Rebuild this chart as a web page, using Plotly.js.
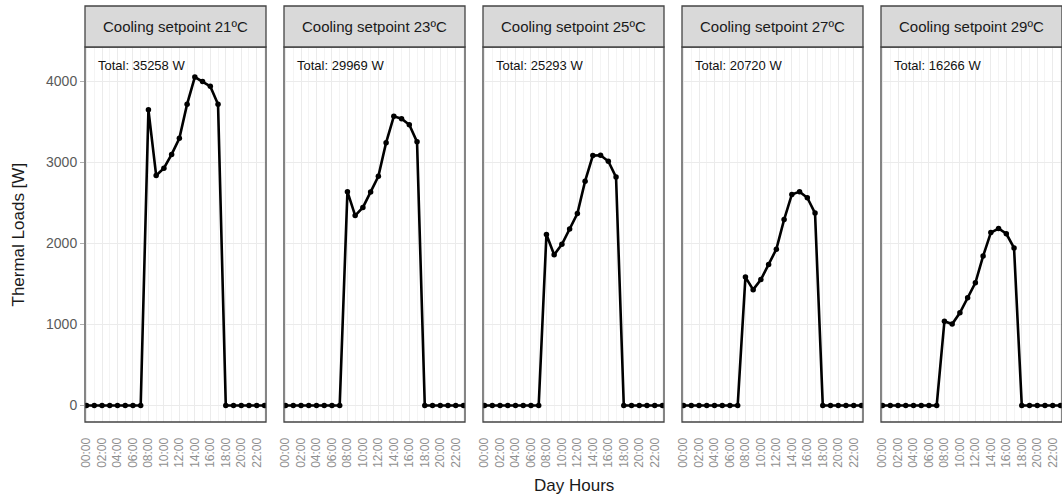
<!DOCTYPE html>
<html>
<head>
<meta charset="utf-8">
<script src="https://cdn.plot.ly/plotly-3.0.1.min.js"></script>
<style>html,body{margin:0;padding:0;background:#fff;}#chart{width:1062px;height:497px;}</style>
</head>
<body>
<div id="chart"></div>
<script>
const hours = [0,1,2,3,4,5,6,7,8,9,10,11,12,13,14,15,16,17,18,19,20,21,22,23];
const tickHours = [0,2,4,6,8,10,12,14,16,18,20,22];
const tickLabels = ["00:00","02:00","04:00","06:00","08:00","10:00","12:00","14:00","16:00","18:00","20:00","22:00"];
const setpoints = ["Cooling setpoint 21ºC","Cooling setpoint 23ºC","Cooling setpoint 25ºC","Cooling setpoint 27ºC","Cooling setpoint 29ºC"];
const totals = ["Total: 35258 W","Total: 29969 W","Total: 25293 W","Total: 20720 W","Total: 16266 W"];
const load21 = [0,0,0,0,0,0,0,0,3650,2840,2930,3100,3300,3720,4055,4000,3940,3720,0,0,0,0,0,0];
const load23 = [0,0,0,0,0,0,0,0,2640,2345,2445,2635,2830,3245,3570,3540,3465,3255,0,0,0,0,0,0];
const load25 = [0,0,0,0,0,0,0,0,2110,1860,1990,2180,2370,2770,3085,3090,3015,2820,0,0,0,0,0,0];
const load27 = [0,0,0,0,0,0,0,0,1585,1430,1555,1740,1930,2295,2605,2640,2565,2375,0,0,0,0,0,0];
const load29 = [0,0,0,0,0,0,0,0,1040,1005,1145,1330,1515,1845,2135,2185,2120,1945,0,0,0,0,0,0];
const loads = [load21, load23, load25, load27, load29];

const FONT = "Liberation Sans, Arial, Helvetica, sans-serif";
const W = 1062, H = 497, ML = 85, MR = 0, MT = 47, MB = 75;
const plotW = W - ML - MR, plotH = H - MT - MB;
const panelW = 181, step = 199;
const stripTop = 6;

const traces = [];
const layout = {
  width: W, height: H,
  margin: {l: ML, r: MR, t: MT, b: MB, pad: 0},
  paper_bgcolor: "#ffffff", plot_bgcolor: "#ffffff",
  showlegend: false,
  font: {family: FONT, color: "#1a1a1a"},
  shapes: [], annotations: []
};

loads.forEach((vals, i) => {
  const n = i === 0 ? "" : String(i + 1);
  const d0 = (i * step) / plotW, d1 = Math.min(1, (i * step + panelW) / plotW);
  traces.push({
    x: hours, y: vals, type: "scatter", mode: "lines+markers",
    xaxis: "x" + n, yaxis: "y" + n,
    line: {color: "#000000", width: 2.6},
    marker: {color: "#000000", size: 5.5},
    hoverinfo: "skip"
  });
  layout["xaxis" + n] = {
    domain: [d0, d1], anchor: "y" + n, range: [-0.2, 23.2],
    tickmode: "array", tickvals: tickHours, ticktext: tickLabels,
    tickangle: -90, tickfont: {family: FONT, size: 12, color: "#8f8f8f"},
    ticks: "outside", ticklen: 10, tickcolor: "rgba(0,0,0,0)",
    showgrid: true, gridcolor: "#ebebeb", gridwidth: 1,
    minor: {tickvals: [1,3,5,7,9,11,13,15,17,19,21,23], showgrid: true, gridcolor: "#f4f4f4", ticks: ""},
    zeroline: false, showline: false, fixedrange: true
  };
  layout["yaxis" + n] = {
    domain: [0, 1], anchor: "x" + n, range: [-204, 4426],
    tickmode: "array", tickvals: [0, 1000, 2000, 3000, 4000],
    showticklabels: i === 0,
    tickfont: {family: FONT, size: 14, color: "#5a5a5a"},
    ticks: i === 0 ? "outside" : "", ticklen: 4, tickcolor: "#b0b0b0",
    showgrid: true, gridcolor: "#ebebeb", gridwidth: 1,
    zeroline: false, showline: false, fixedrange: true
  };
  // panel border
  layout.shapes.push({type: "rect", xref: "paper", yref: "paper", x0: d0, x1: d1, y0: 0, y1: 1,
    line: {color: "#444444", width: 1.3}, fillcolor: "rgba(0,0,0,0)", layer: "above"});
  // strip
  const sy1 = 1 + (MT - stripTop) / plotH;
  layout.shapes.push({type: "rect", xref: "paper", yref: "paper", x0: d0, x1: d1, y0: 1, y1: sy1,
    line: {color: "#444444", width: 1.3}, fillcolor: "#d9d9d9", layer: "above"});
  layout.annotations.push({xref: "paper", yref: "paper", x: (d0 + d1) / 2, y: (1 + sy1) / 2,
    text: setpoints[i], showarrow: false, xanchor: "center", yanchor: "middle",
    font: {family: FONT, size: 15, color: "#1a1a1a"}});
  layout.annotations.push({xref: "paper", yref: "paper", x: d0 + 10.5 / plotW, y: (H - MB - 65) / plotH,
    text: totals[i], showarrow: false, xanchor: "left", yanchor: "middle",
    font: {family: FONT, size: 13, color: "#111111"}});
});

layout.annotations.push({xref: "paper", yref: "paper", x: 0.5, y: (H - MB - 485) / plotH,
  text: "Day Hours", showarrow: false, xanchor: "center", yanchor: "middle",
  font: {family: FONT, size: 17, color: "#1a1a1a"}});
layout.annotations.push({xref: "paper", yref: "paper", x: (18 - ML) / plotW, y: 0.5,
  text: "Thermal Loads [W]", showarrow: false, xanchor: "center", yanchor: "middle", textangle: -90,
  font: {family: FONT, size: 17, color: "#1a1a1a"}});

Plotly.newPlot("chart", traces, layout, {displayModeBar: false, staticPlot: true});
</script>
</body>
</html>
